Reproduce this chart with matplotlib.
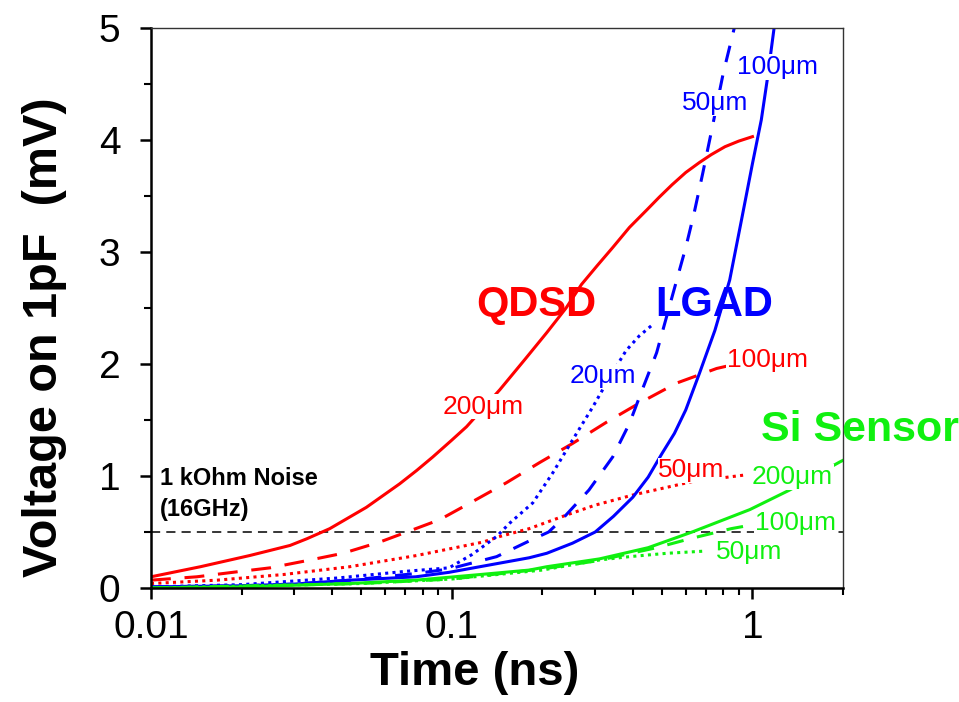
import numpy as np
import matplotlib
matplotlib.use("Agg")
import matplotlib.pyplot as plt
from matplotlib.ticker import FixedLocator, LogLocator, NullFormatter

plt.rcParams['font.family'] = ['Liberation Sans', 'DejaVu Sans']

## QDSD curves (red)
t_qdsd200 = [0.01, 0.0146, 0.0213, 0.029, 0.033, 0.0393, 0.052, 0.0671, 0.0765, 0.0865, 0.1, 0.112, 0.1445, 0.175, 0.207, 0.24, 0.27, 0.305, 0.343, 0.39, 0.445, 0.49, 0.54, 0.6, 0.667, 0.73, 0.81, 0.9, 1.0]
v_qdsd200 = [0.10, 0.19, 0.29, 0.38, 0.44, 0.53, 0.72, 0.93, 1.05, 1.17, 1.32, 1.44, 1.77, 2.04, 2.28, 2.50, 2.71, 2.88, 3.04, 3.22, 3.375, 3.49, 3.60, 3.71, 3.80, 3.87, 3.94, 3.99, 4.03]
t_qdsd100 = [0.01, 0.0142, 0.0187, 0.0249, 0.0338, 0.0435, 0.0576, 0.0742, 0.0912, 0.117, 0.152, 0.196, 0.252, 0.327, 0.42, 0.56, 0.76, 0.85]
v_qdsd100 = [0.07, 0.10, 0.14, 0.18, 0.25, 0.31, 0.41, 0.52, 0.61, 0.77, 0.94, 1.12, 1.29, 1.48, 1.65, 1.83, 1.96, 1.99]
t_qdsd50 = [0.01, 0.0166, 0.0275, 0.0458, 0.0764, 0.127, 0.1445, 0.181, 0.24, 0.30, 0.40, 0.63, 0.95]
v_qdsd50 = [0.04, 0.07, 0.12, 0.19, 0.29, 0.41, 0.46, 0.53, 0.65, 0.74, 0.83, 0.95, 1.01]

## LGAD curves (blue)
t_lgad100 = [0.01, 0.02, 0.03, 0.046, 0.076, 0.098, 0.124, 0.181, 0.207, 0.252, 0.30, 0.345, 0.40, 0.45, 0.50, 0.55, 0.60, 0.667, 0.75, 0.84, 0.92, 1.0, 1.07, 1.12, 1.18]
v_lgad100 = [0.01, 0.02, 0.035, 0.07, 0.10, 0.14, 0.19, 0.27, 0.31, 0.40, 0.50, 0.64, 0.81, 0.99, 1.20, 1.38, 1.59, 1.92, 2.30, 2.75, 3.29, 3.79, 4.18, 4.54, 5.0]
t_lgad50 = [0.01, 0.02, 0.03, 0.046, 0.0764, 0.098, 0.141, 0.181, 0.21, 0.234, 0.286, 0.343, 0.39, 0.43, 0.48, 0.56, 0.60, 0.64, 0.683, 0.736, 0.80, 0.87]
v_lgad50 = [0.01, 0.02, 0.035, 0.07, 0.13, 0.17, 0.28, 0.42, 0.50, 0.62, 0.875, 1.17, 1.47, 1.77, 2.10, 2.75, 3.04, 3.35, 3.70, 4.12, 4.60, 5.0]
t_lgad20 = [0.01, 0.02, 0.042, 0.071, 0.098, 0.117, 0.127, 0.141, 0.156, 0.186, 0.217, 0.252, 0.295, 0.335, 0.38, 0.42, 0.465]
v_lgad20 = [0.01, 0.03, 0.09, 0.15, 0.18, 0.30, 0.37, 0.46, 0.58, 0.76, 1.03, 1.32, 1.62, 1.88, 2.12, 2.25, 2.35]

## Si sensor curves (green)
t_si200 = [0.01, 0.02, 0.046, 0.076, 0.124, 0.181, 0.207, 0.31, 0.45, 0.63, 0.98, 1.33, 1.95, 2.0]
v_si200 = [0.0, 0.01, 0.04, 0.07, 0.12, 0.16, 0.19, 0.26, 0.36, 0.50, 0.70, 0.875, 1.125, 1.14]
t_si100 = [0.01, 0.05, 0.1, 0.2, 0.3, 0.48, 0.62, 0.85, 1.3, 2.0]
v_si100 = [0.0, 0.04, 0.08, 0.17, 0.24, 0.36, 0.44, 0.53, 0.62, 0.67]
t_si50 = [0.01, 0.05, 0.1, 0.2, 0.31, 0.39, 0.52, 0.70]
v_si50 = [0.0, 0.04, 0.08, 0.16, 0.25, 0.28, 0.31, 0.33]

noise_level = 0.5

red = '#ff0000'; blue = '#0000ff'; green = '#10f010'
lw = 2.2
dash_r = (0, (6.5, 4.5))
dash_b = (0, (5.5, 4.5))
dot = (0, (1.0, 1.4))

fig = plt.figure(figsize=(9.59, 7.02), dpi=100, facecolor='w')
ax = fig.add_axes([151/959, 1-588/702, 692/959, 560/702])

ax.plot([0.01, 2.0], [noise_level, noise_level], color='k', lw=1.1, ls=(0, (6, 4)), zorder=1)

ax.plot(t_qdsd200, v_qdsd200, color=red, lw=lw, ls='-')
ax.plot(t_qdsd100, v_qdsd100, color=red, lw=lw, ls=dash_r)
ax.plot(t_qdsd50, v_qdsd50, color=red, lw=lw, ls=dot)
ax.plot(t_lgad100, v_lgad100, color=blue, lw=lw, ls='-')
ax.plot(t_lgad50, v_lgad50, color=blue, lw=lw, ls=dash_b)
ax.plot(t_lgad20, v_lgad20, color=blue, lw=lw, ls=dot)
ax.plot(t_si200, v_si200, color=green, lw=lw, ls='-')
ax.plot(t_si100, v_si100, color=green, lw=lw, ls=dash_b)
ax.plot(t_si50, v_si50, color=green, lw=lw, ls=dot)

ax.set_xscale('log')
ax.set_xlim(0.01, 2.0)
ax.set_ylim(0, 5)

## small labels with white box (they hide the lines behind)
box = dict(facecolor='w', edgecolor='none', pad=0.5)
small = 19
def lab(x, y, s, c):
    ax.text(x, y, s, color=c, fontsize=small, ha='center', va='center', bbox=box, zorder=5)

lab(0.127, 1.62, '200\u03bcm', red)
lab(1.12, 2.04, '100\u03bcm', red)
lab(0.627, 1.05, '50\u03bcm', red)
lab(0.318, 1.89, '20\u03bcm', blue)
lab(0.753, 4.33, '50\u03bcm', blue)
lab(1.21, 4.65, '100\u03bcm', blue)
lab(1.36, 0.99, '200\u03bcm', green)
lab(1.39, 0.58, '100\u03bcm', green)
lab(0.977, 0.32, '50\u03bcm', green)

ax.text(0.191, 2.53, 'QDSD', color=red, fontsize=30, fontweight='bold', ha='center', va='center', zorder=6)
ax.text(0.748, 2.53, 'LGAD', color=blue, fontsize=30, fontweight='bold', ha='center', va='center', zorder=6)
ax.text(1.07, 1.41, 'Si Sensor', color=green, fontsize=31, fontweight='bold', ha='left', va='center', zorder=6, clip_on=False)

ax.text(0.0107, 0.98, '1 kOhm Noise', color='k', fontsize=17, fontweight='bold', ha='left', va='center')
ax.text(0.0107, 0.70, '(16GHz)', color='k', fontsize=17, fontweight='bold', ha='left', va='center')

## axes styling
for s in ['left', 'bottom']:
    ax.spines[s].set_linewidth(1.8)
for s in ['top', 'right']:
    ax.spines[s].set_linewidth(1.0)
    ax.spines[s].set_color('#333333')

ax.yaxis.set_major_locator(FixedLocator([0, 1, 2, 3, 4, 5]))
ax.yaxis.set_minor_locator(FixedLocator([0.5, 1.5, 2.5, 3.5, 4.5]))
ax.xaxis.set_major_locator(FixedLocator([0.01, 0.1, 1]))
ax.xaxis.set_minor_locator(LogLocator(base=10, subs=np.arange(2, 10)))
ax.xaxis.set_minor_formatter(NullFormatter())
ax.set_xticklabels(['0.01', '0.1', '1'])
ax.set_yticklabels(['0', '1', '2', '3', '4', '5'])

ax.tick_params(axis='both', which='major', direction='out', length=8, width=1.8, labelsize=28)
ax.tick_params(axis='both', which='minor', direction='out', length=5, width=1.5)
ax.tick_params(axis='y', which='major', pad=14)
ax.tick_params(axis='x', which='major', pad=8)

fig.text(45/959, 1-337/702, 'Voltage on 1pF  (mV)', rotation=90, fontsize=35, fontweight='bold', ha='center', va='center')
fig.text(475/959, 1-673/702, 'Time (ns)', fontsize=34, fontweight='bold', ha='center', va='center')

plt.savefig('out.png', dpi=100, facecolor='w')
plt.close()
